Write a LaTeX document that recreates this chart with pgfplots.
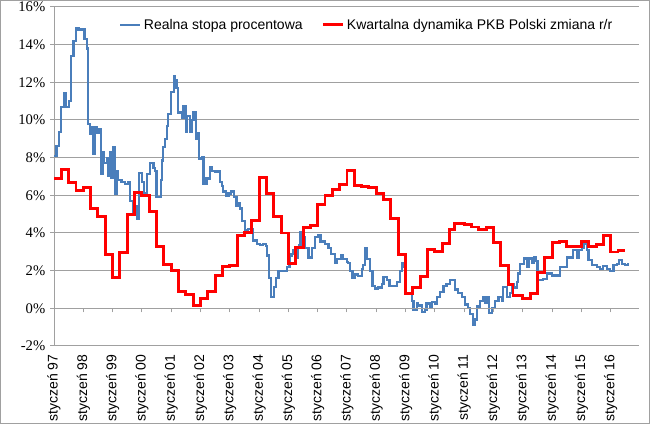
\documentclass[border=0pt]{standalone}
\usepackage{pgfplots}
\pgfplotsset{compat=1.18}
\usepackage{fontspec}
\setmainfont{Liberation Sans}
\newfontfamily\tnr{Liberation Serif}
\definecolor{gridgray}{RGB}{160,160,160}
\definecolor{xlblue}{RGB}{74,126,187}
\definecolor{xlred}{RGB}{255,0,0}

\begin{document}
\begin{tikzpicture}
\useasboundingbox (0,0) rectangle (487.5pt,318pt);
\draw[gridgray, line width=0.75pt] (0.4pt,0.4pt) rectangle (487.1pt,317.6pt);

\begin{axis}[
  at={(40.5pt,58.5pt)}, anchor=south west,
  scale only axis, width=438.75pt, height=254.25pt,
  xmin=0, xmax=239.6, ymin=-2, ymax=16,
  axis x line*=bottom, axis y line*=left,
  axis line style={-, draw=gridgray, line width=0.75pt},
  ytick={-2,0,...,16},
  yticklabel={{\tnr\pgfmathprintnumber{\tick}\%}},
  /pgf/number format/assume math mode=true,
  yticklabel style={font=\tnr\fontsize{11}{12}\selectfont},
  ymajorgrids, grid style={gridgray, line width=0.75pt},
  tick align=outside, major tick length=3pt,
  ytick style={draw=gridgray, line width=0.75pt},
  xtick={0,12,...,228},
  xtick style={draw=none},
  xticklabels={styczeń 97,styczeń 98,styczeń 99,styczeń 00,styczeń 01,styczeń 02,styczeń 03,styczeń 04,styczeń 05,styczeń 06,styczeń 07,styczeń 08,styczeń 09,styczeń 10,styczeń 11,styczeń 12,styczeń 13,styczeń 14,styczeń 15,styczeń 16},
  xticklabel style={rotate=90, anchor=east, font=\fontsize{10.5}{12}\selectfont},
  legend style={at={(0.535,0.947)}, anchor=center, legend columns=2, draw=none, fill=none,
    font=\fontsize{10.5}{12}\selectfont,
    /tikz/every even column/.append style={column sep=12pt}},
  legend image code/.code={\draw[#1] (0pt,0pt) -- (15pt,0pt);},
]
\addplot[const plot, color=xlblue, line width=1.7pt] coordinates {
(0,8.1) (1,8.6) (2,9.35) (3,10.7) (4,11.4) (5,10.7) (6,11.0) (7,13.4) (8,14.2) (9,14.9)
(10,14.8) (12.5,14.3) (13.4,13.8) (14,9.8) (14.7,9.25) (15.4,9.6) (16.1,8.2) (16.8,9.6) (17.5,9.3) (18.6,9.5)
(19.1,7.15) (19.9,8.3) (20.6,7.7) (21.6,8.0) (22.2,7.05) (22.9,8.3) (23.6,6.95) (24.3,8.55) (25,6.1) (25.7,7.3)
(26.3,6.8) (27.7,6.7) (29,6.6) (30.4,6.7) (31.1,5.7) (32.5,5.0) (33.2,5.4) (34.1,4.75) (34.9,7.2) (35.9,6.7)
(36.9,6.1) (38,7.15) (39.3,7.7) (40.7,7.45) (41.4,7.3) (42,5.9) (43.7,6.8) (44.1,7.85) (44.5,8.55) (45.5,9.0)
(46.2,9.7) (46.8,10.3) (47.8,11.5) (49,12.35) (49.7,12.1) (50.2,11.7) (50.9,10.4) (52.3,10.1) (53,10.75) (54.1,9.35)
(54.6,10.2) (55.7,9.35) (56.4,10.0) (57.1,10.4) (58.2,9.0) (58.6,9.3) (59.5,7.95) (60.6,8.05) (61.2,6.6) (62.5,6.9)
(63.9,7.5) (64.6,7.3) (65.9,7.25) (67,7.3) (68,6.7) (68.7,6.5) (69.3,6.2) (70.5,5.95) (71.5,6.1) (72.4,6.2)
(73.6,5.9) (74.8,5.45) (75.5,5.6) (76.2,5.3) (76.9,4.65) (78.2,4.15) (79.5,4.2) (81.6,3.6) (83,3.4) (84.4,3.35)
(85.7,3.4) (86.7,3.3) (87.1,2.8) (88,1.6) (89,0.6) (90,1.15) (91,1.6) (92,2.0) (94,2.0) (95.3,2.2)
(96.4,2.8) (97.3,2.9) (98,3.1) (99.1,2.7) (99.8,3.2) (100.5,3.35) (101,4.05) (102,3.8) (102.8,3.2) (104.2,2.7)
(105.6,3.2) (106.9,3.8) (108.3,3.9) (109.2,3.55) (111,3.4) (112.4,3.2) (113.5,2.9) (115,2.4) (116,2.6) (117.4,2.8)
(118.5,2.6) (119.9,2.45) (120.5,2.4) (121.2,2.0) (122.3,1.6) (123.3,1.8) (124.5,1.7) (126,2.1) (126.7,2.3) (127.4,3.2)
(128.3,2.6) (129.4,2.0) (130.5,1.2) (131.5,1.05) (132.7,1.1) (134.2,1.3) (134.9,1.65) (136.3,1.5) (137.4,1.2) (138.9,1.2)
(140.4,1.4) (141.7,2.0) (142.4,2.4) (143.1,2.2) (143.8,0.8) (145.1,0.8) (146.5,0.4) (147.2,-0.1) (148.6,0.3) (149.2,0.15)
(150.6,-0.2) (152,-0.1) (152.6,0.25) (154,0.1) (154.7,0.35) (156,0.25) (157,0.6) (158.1,0.85) (159.5,1.2) (160.8,1.3)
(162.2,1.5) (163.5,1.5) (164.2,1.0) (165.6,0.8) (167,0.6) (168.3,0.2) (169.6,0.0) (170.4,-0.3) (171.7,-0.9) (172.4,-0.6)
(173.1,0.1) (174.5,0.4) (175.8,0.6) (176.5,0.3) (177.2,0.6) (178.3,-0.25) (179.3,0.0) (180.6,0.4) (182,0.6) (183.4,0.4)
(184,1.15) (185.4,0.6) (186.8,0.8) (187.5,1.3) (188.5,1.1) (189.5,1.4) (190,1.85) (190.9,2.35) (192.5,2.65) (193.6,2.2)
(194.3,2.65) (195.7,2.4) (196.6,2.7) (197.4,2.5) (198,1.5) (200.2,1.55) (201.8,1.85) (203.9,1.75) (206.6,1.75) (207.3,2.2)
(209.3,2.2) (210,2.7) (212,2.7) (212.7,3.1) (214.1,2.7) (214.8,3.1) (216.2,3.2) (216.9,3.5) (217.6,3.4) (218.3,3.1)
(218.9,2.55) (220.3,2.3) (222.3,2.2) (223.6,2.1) (225,2.25) (226.4,2.1) (227.7,2.0) (229.1,2.3) (230.5,2.35) (231.4,2.55)
(232.5,2.35) (233.9,2.3) (235,2.37) (235.5,2.37)
};
\addlegendentry{Realna stopa procentowa}
\addplot[const plot, color=xlred, line width=2.2pt] coordinates {
(0,6.88) (3,7.37) (6,6.7) (9,6.26) (12,6.44) (15,5.29) (18,4.88) (21,2.86) (24,1.63) (27,2.95)
(30,4.99) (33,6.17) (36,6.0) (39,5.16) (42,3.29) (45,2.33) (48,2.0) (51,0.87) (54,0.74) (57,0.16)
(60,0.51) (63,0.87) (66,1.75) (69,2.2) (72,2.28) (75,3.87) (78,4.05) (81,4.67) (84,6.97) (87,6.08)
(90,4.88) (93,4.0) (96,2.37) (99,3.22) (102,4.28) (105,4.4) (108,5.5) (111,6.0) (114,6.3) (117,6.58)
(120,7.32) (123,6.51) (126,6.48) (129,6.4) (132,6.08) (135,5.8) (138,4.78) (141,2.86) (144,0.81) (147,1.12)
(150,1.7) (153,3.1) (156,3.02) (159,3.46) (162,4.19) (164,4.5) (168,4.46) (171,4.32) (174,4.17) (177,4.27)
(180,3.48) (183,2.28) (186,1.25) (188,0.69) (192,0.51) (195,0.8) (198,1.9) (201,2.69) (204,3.5) (207,3.57)
(210,3.29) (213,3.29) (216,3.57) (219,3.29) (222,3.4) (225,3.87) (228,2.99) (231,3.08) (234,3.08)
};
\addlegendentry{Kwartalna dynamika PKB Polski zmiana r/r}
\end{axis}

\begin{axis}[
  at={(40.5pt,58.5pt)}, anchor=south west,
  scale only axis, width=438.75pt, height=254.25pt,
  xmin=0, xmax=239.6, ymin=-2, ymax=16,
  axis x line=middle, axis y line=none,
  x axis line style={-, draw=gridgray, line width=0.75pt},
  xtick={12,24,...,228}, xticklabels={},
  tick align=outside, major tick length=3pt,
  xtick style={draw=gridgray, line width=0.75pt},
]
\end{axis}
\end{tikzpicture}
\end{document}
